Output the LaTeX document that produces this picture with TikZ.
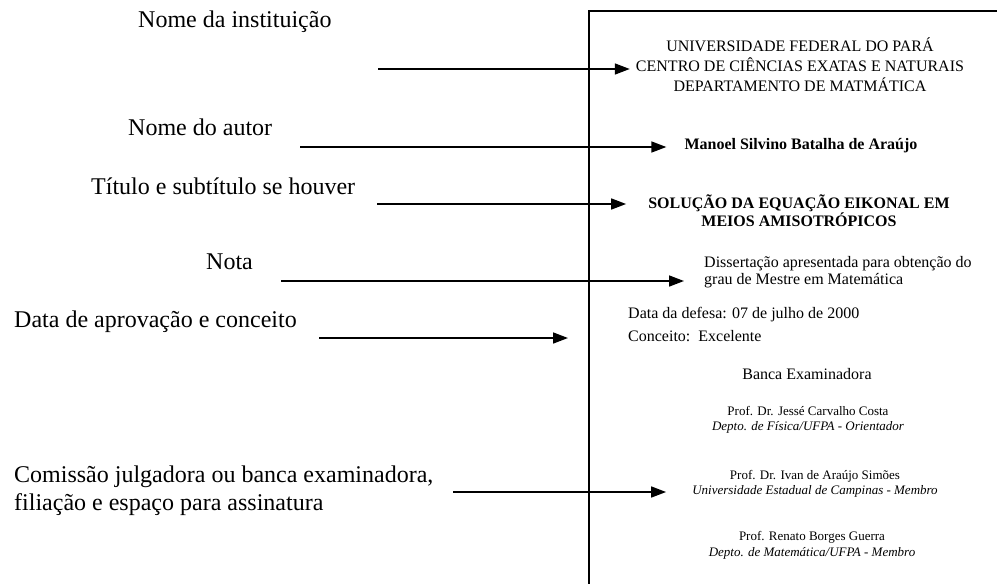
\documentclass[tikz,border=0pt]{standalone}
\usepackage{fontspec}
\setmainfont{Liberation Serif}
\usetikzlibrary{arrows.meta, positioning}
\tikzstyle{rotulo} = [anchor=west, inner sep=0pt, text height=0.7em, text depth=0.2em, font=\fontsize{24}{28}\selectfont]
\tikzstyle{capa} = [inner sep=0pt, text height=0.7em, text depth=0.2em, font=\fontsize{16}{19}\selectfont]
\tikzstyle{capab} = [capa, font=\fontsize{16}{19}\selectfont\bfseries]
\tikzstyle{banca} = [capa, font=\fontsize{13}{15}\selectfont]
\tikzstyle{filiacao} = [capa, font=\fontsize{13}{15}\selectfont\itshape]
\tikzstyle{arrow} = [line width=1.6pt, -{Triangle[length=15pt, width=11pt]}]
\tikzstyle{borda} = [line width=2pt]

\begin{document}
\begin{tikzpicture}[x=1pt, y=-1pt, node distance=20pt]
  \useasboundingbox (0,0) rectangle (997,584);
  % folha de rosto
  \coordinate (canto) at (589,11);
  \draw [borda] (589,584) -- (canto) -- (997,11);
  % rotulos da esquerda
  \node (rInst) [rotulo] at (138,25) {Nome da instituição};
  \node (rAutor) [rotulo] at (128,133) {Nome do autor};
  \node (rTitulo) [rotulo] at (91,192) {Título e subtítulo se houver};
  \node (rNota) [rotulo] at (206,267) {Nota};
  \node (rData) [rotulo] at (14,325) {Data de aprovação e conceito};
  \node (rBanca1) [rotulo] at (14,480) {Comissão julgadora ou banca examinadora,};
  \node (rBanca2) [rotulo] at (14,508) {filiação e espaço para assinatura};
  % texto da folha
  \node (inst1) [capa] at (800,49) {UNIVERSIDADE FEDERAL DO PARÁ};
  \node (inst2) [capa, below of = inst1] {CENTRO DE CIÊNCIAS EXATAS E NATURAIS};
  \node (inst3) [capa, below of = inst2] {DEPARTAMENTO DE MATMÁTICA};
  \node (autor) [capab] at (801,147) {Manoel Silvino Batalha de Araújo};
  \node (tit1) [capab] at (799,206) {SOLUÇÃO DA EQUAÇÃO EIKONAL EM};
  \node (tit2) [capab, below of = tit1, yshift = 2pt] {MEIOS AMISOTRÓPICOS};
  \node (nota1) [capa, anchor=west] at (704,265) {Dissertação apresentada para obtenção do};
  \node (nota2) [capa, anchor=west] at (704,282) {grau de Mestre em Matemática};
  \node (data1) [capa, anchor=west] at (628,316) {Data da defesa: 07 de julho de 2000};
  \node (data2) [capa, anchor=west] at (628,339) {Conceito:\ \ Excelente};
  \node (bancaT) [capa] at (807,377) {Banca Examinadora};
  \node (prof1) [banca] at (808,413) {Prof. Dr. Jessé Carvalho Costa};
  \node (filia1) [filiacao, below of = prof1, yshift = 5pt] {Depto. de Física/UFPA - Orientador};
  \node (prof2) [banca] at (815,477) {Prof. Dr. Ivan de Araújo Simões};
  \node (filia2) [filiacao, below of = prof2, yshift = 5pt] {Universidade Estadual de Campinas - Membro};
  \node (prof3) [banca] at (812,538) {Prof. Renato Borges Guerra};
  \node (filia3) [filiacao, below of = prof3, yshift = 4pt] {Depto. de Matemática/UFPA - Membro};
  % setas
  \coordinate (aInst) at (378,69);
  \coordinate (aAutor) at (300,147);
  \coordinate (aTitulo) at (377,204);
  \coordinate (aNota) at (281,281);
  \coordinate (aData) at (319,338);
  \coordinate (aBanca) at (453,492);
  \draw [arrow, shorten >= 6pt] (aInst) -- (aInst -| inst2.west);
  \draw [arrow, shorten >= 18pt] (aAutor) -- (aAutor -| autor.west);
  \draw [arrow, shorten >= 22pt] (aTitulo) -- (aTitulo -| tit1.west);
  \draw [arrow, shorten >= 20pt] (aNota) -- (aNota -| nota2.west);
  \draw [arrow, shorten >= 60pt] (aData) -- (aData -| data1.west);
  \draw [arrow, shorten >= 26pt] (aBanca) -- (aBanca -| filia2.west);
\end{tikzpicture}
\end{document}
